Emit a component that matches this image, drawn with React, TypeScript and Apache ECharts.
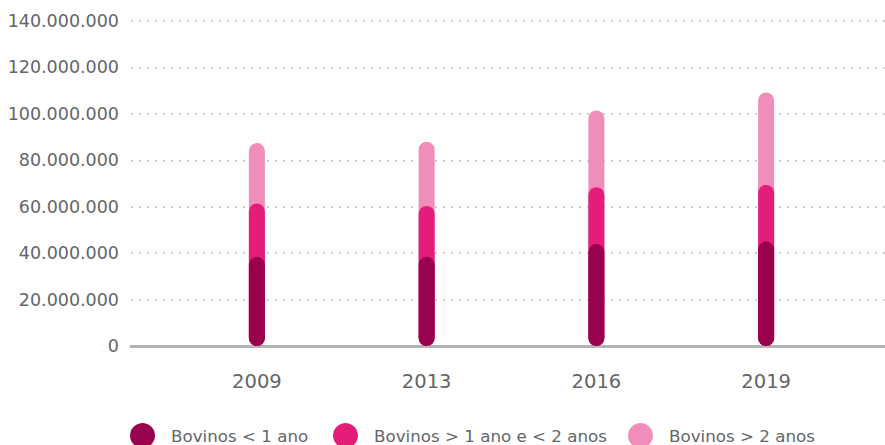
import React, { useEffect, useRef } from "react";
import * as echarts from "echarts";

const years = ["2009", "2013", "2016", "2019"];
const under1 = [38400000, 38400000, 43900000, 45000000];
const between1and2 = [23000000, 21900000, 24500000, 24400000];
const over2 = [26000000, 27700000, 33100000, 39800000];
const seriesNames = ["Bovinos < 1 ano", "Bovinos > 1 ano e < 2 anos", "Bovinos > 2 anos"];
const colors = ["#99004D", "#E31D79", "#F18DBB"];
const yMax = 140000000;
const yStep = 20000000;

const FONT = "DejaVu Sans";
const WEIGHT = "normal";
const TEXT_COLOR = "#62666a";

function fmt(v: number): string {
  return String(Math.round(v)).replace(/\B(?=(\d{3})+(?!\d))/g, ".");
}

export default function App() {
  const ref = useRef<HTMLDivElement>(null);
  useEffect(() => {
    if (!ref.current) return;
    const chart = echarts.init(ref.current, undefined, { renderer: "svg" });
    const cum1 = under1.slice();
    const cum2 = under1.map((v, i) => v + between1and2[i]);
    const cum3 = cum2.map((v, i) => v + over2[i]);
    const legendLefts = [130, 333, 628];
    const barCommon = {
      type: "bar" as const,
      xAxisIndex: 1,
      yAxisIndex: 1,
      barWidth: 16,
      barGap: "-100%",
    };
    chart.setOption({
      animation: false,
      grid: [
        { left: 131, right: 0, top: 21, bottom: 99 },
        { left: 172, right: 34, top: 21, bottom: 99 },
      ],
      xAxis: [
        {
          type: "category",
          gridIndex: 0,
          data: years,
          axisLine: { show: true, lineStyle: { color: "#b3b3b3", width: 3 } },
          axisTick: { show: false },
          axisLabel: { show: false },
          splitLine: { show: false },
        },
        {
          type: "category",
          gridIndex: 1,
          data: years,
          axisLine: { show: false },
          axisTick: { show: false },
          axisLabel: {
            show: true,
            margin: 25,
            color: TEXT_COLOR,
            fontFamily: FONT,
            fontWeight: WEIGHT,
            fontSize: 19.5,
          },
        },
      ],
      yAxis: [
        {
          type: "value",
          gridIndex: 0,
          min: 0,
          max: yMax,
          interval: yStep,
          axisLine: { show: false },
          axisTick: { show: false },
          axisLabel: {
            margin: 12,
            color: TEXT_COLOR,
            fontFamily: FONT,
            fontWeight: WEIGHT,
            fontSize: 17.5,
            formatter: (v: number) => fmt(v),
          },
          splitLine: {
            show: true,
            lineStyle: { color: "#cfcfcf", width: 2, type: [2, 6] },
          },
        },
        {
          type: "value",
          gridIndex: 1,
          min: 0,
          max: yMax,
          interval: yStep,
          show: false,
          splitLine: { show: false },
        },
      ],
      legend: seriesNames.map((n, i) => ({
        data: [n],
        left: legendLefts[i],
        top: 423,
        padding: 0,
        icon: "circle",
        itemWidth: 25,
        itemHeight: 25,
        selectedMode: false,
        textStyle: {
          color: TEXT_COLOR,
          fontFamily: FONT,
          fontWeight: WEIGHT,
          fontSize: 16.7,
          padding: [0, 0, 0, 11],
        },
      })),
      series: [
        {
          ...barCommon,
          name: seriesNames[2],
          data: cum3,
          z: 2,
          itemStyle: { color: colors[2], borderRadius: 8 },
        },
        {
          ...barCommon,
          name: seriesNames[1],
          data: cum2,
          z: 3,
          itemStyle: { color: colors[1], borderRadius: 8 },
        },
        {
          ...barCommon,
          name: seriesNames[0],
          data: cum1,
          z: 4,
          itemStyle: { color: colors[0], borderRadius: 8 },
        },
      ],
    });
    return () => chart.dispose();
  }, []);
  return (
    <div
      ref={ref}
      style={{ position: "fixed", left: 0, top: 0, width: 885, height: 445, background: "#fff" }}
    />
  );
}
